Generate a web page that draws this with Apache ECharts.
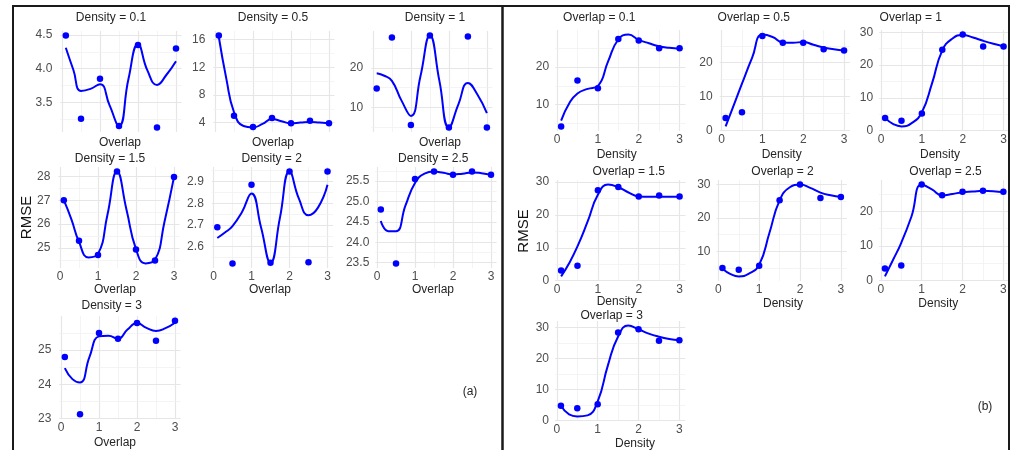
<!DOCTYPE html>
<html><head><meta charset="utf-8">
<script src="https://cdn.jsdelivr.net/npm/echarts@6/dist/echarts.min.js"></script>
<style>html,body{margin:0;padding:0;background:#fff}#chart{width:1017px;height:450px}</style>
</head><body><div id="chart"></div>
<script>
// ---------- x values ----------
const overlapLevels = [0.1, 0.5, 1, 1.5, 2, 2.5, 3];
const densityLevels = [0.1, 0.5, 1, 1.5, 2, 2.5, 3];
const fitX = [0.1, 0.3, 0.5, 0.75, 1, 1.25, 1.5, 1.75, 2, 2.25, 2.5, 2.75, 3];
const xTickLabels = ['0', '1', '2', '3'];

// ---------- (a) RMSE vs Overlap, one panel per Density ----------
const rmseDensity01 = [4.49, 3.26, 3.85, 3.15, 4.35, 3.13, 4.30];
const fitDensity01  = [4.31, 3.98, 3.67, 3.70, 3.77, 3.46, 3.15, 3.85, 4.36, 3.97, 3.76, 3.91, 4.11];
const rmseDensity05 = [16.6, 5.0, 3.36, 4.65, 3.9, 4.25, 3.9];
const fitDensity05  = [16.4, 10.3, 5.5, 3.5, 3.3, 3.8, 4.5, 4.2, 3.9, 4.0, 4.1, 4.0, 3.9];
const rmseDensity1  = [14.8, 27.65, 5.6, 28.1, 5.0, 27.9, 5.0];
const fitDensity1   = [18.6, 18.0, 16.7, 11.8, 7.9, 17.8, 28.1, 16.7, 5.0, 10.8, 16.2, 13.3, 8.6];
const rmseDensity15 = [27.0, 25.3, 24.7, 28.2, 24.93, 24.47, 27.97];
const fitDensity15  = [27.0, 26.2, 25.25, 24.6, 24.75, 26.4, 28.2, 26.6, 24.95, 24.35, 24.5, 26.1, 27.97];
const rmseDensity2  = [2.69, 2.523, 2.885, 2.526, 2.946, 2.528, 2.946];
const fitDensity2   = [2.64, 2.665, 2.695, 2.76, 2.845, 2.69, 2.526, 2.735, 2.946, 2.82, 2.745, 2.78, 2.885];
const rmseDensity25 = [24.8, 23.48, 25.55, 25.73, 25.65, 25.73, 25.65];
const fitDensity25  = [24.52, 24.27, 24.27, 24.9, 25.45, 25.68, 25.73, 25.7, 25.66, 25.68, 25.71, 25.69, 25.65];
const rmseDensity3  = [24.8, 23.12, 25.5, 25.33, 25.79, 25.27, 25.86];
const fitDensity3   = [24.47, 24.15, 24.05, 24.8, 25.4, 25.42, 25.33, 25.6, 25.79, 25.65, 25.56, 25.64, 25.8];

// ---------- (b) RMSE vs Density, one panel per Overlap ----------
const rmseOverlap01 = [4.25, 16.45, 14.4, 27.4, 27.05, 25.0, 25.0];
const fitOverlap01  = [5.8, 10.4, 13.0, 14.2, 15.0, 21.5, 27.3, 28.6, 27.2, 26.3, 25.5, 25.1, 24.85];
const rmseOverlap05 = [3.66, 5.4, 27.9, 25.9, 25.9, 24.0, 23.6];
const fitOverlap05  = [1.2, 7.5, 13.8, 21.5, 28.3, 27.6, 26.0, 25.9, 26.1, 25.3, 24.5, 24.0, 23.6];
const rmseOverlap1  = [3.87, 3.05, 5.2, 24.7, 29.3, 25.7, 25.7];
const fitOverlap1   = [3.9, 2.0, 1.3, 2.3, 5.6, 14.5, 24.5, 28.1, 29.2, 28.4, 27.4, 26.5, 25.7];
const rmseOverlap15 = [3.13, 4.56, 27.45, 28.5, 25.6, 25.9, 25.6];
const fitOverlap15  = [1.3, 5.4, 10.4, 18.0, 26.1, 29.2, 28.4, 26.8, 25.6, 25.5, 25.5, 25.5, 25.5];
const rmseOverlap2  = [5.0, 4.5, 5.7, 25.3, 30.0, 26.0, 26.3];
const fitOverlap2   = [4.8, 3.2, 2.5, 3.3, 6.0, 15.5, 25.3, 29.2, 30.0, 29.0, 27.6, 26.8, 26.3];
const rmseOverlap25 = [3.46, 4.32, 27.7, 24.6, 25.6, 25.9, 25.6];
const fitOverlap25  = [1.2, 6.0, 10.9, 18.5, 27.7, 26.3, 24.6, 25.0, 25.5, 25.7, 25.9, 25.8, 25.5];
const rmseOverlap3  = [4.76, 4.03, 5.3, 28.4, 29.4, 25.7, 25.9];
const fitOverlap3   = [4.76, 2.0, 1.35, 1.7, 6.2, 17.8, 27.1, 30.6, 29.4, 28.0, 27.0, 26.3, 25.9];

// ---------- y tick labels ----------
const yTicksDensity01 = ['3.5', '4.0', '4.5'];
const yTicksDensity05 = ['4', '8', '12', '16'];
const yTicksDensity1  = ['10', '20'];
const yTicksDensity15 = ['25', '26', '27', '28'];
const yTicksDensity2  = ['2.6', '2.7', '2.8', '2.9'];
const yTicksDensity25 = ['23.5', '24.0', '24.5', '25.0', '25.5'];
const yTicksDensity3  = ['23', '24', '25'];
const yTicksOverlap01 = ['10', '20'];
const yTicksOverlap05 = ['0', '10', '20'];
const yTicksOverlap1  = ['0', '10', '20', '30'];
const yTicksOverlap15 = ['0', '10', '20', '30'];
const yTicksOverlap2  = ['10', '20', '30'];
const yTicksOverlap25 = ['0', '10', '20'];
const yTicksOverlap3  = ['0', '10', '20', '30'];

// ---------- layout ----------
const WA = 121.2, WB = 130.3;
const panels = [
  {title:'Density = 0.1', x:overlapLevels, pts:rmseDensity01, fit:fitDensity01, yt:yTicksDensity01, name:'Overlap', left:60.3, top:31, w:WA, h:101, xl:false, tx:111, ty:18, nx:120, ny:143, m:8},
  {title:'Density = 0.5', x:overlapLevels, pts:rmseDensity05, fit:fitDensity05, yt:yTicksDensity05, name:'Overlap', left:213.3, top:31, w:WA, h:101, xl:false, tx:273, ty:18, nx:273, ny:143, m:8},
  {title:'Density = 1',   x:overlapLevels, pts:rmseDensity1,  fit:fitDensity1,  yt:yTicksDensity1,  name:'Overlap', left:371.2, top:31, w:WA, h:101, xl:false, tx:435, ty:18, nx:440, ny:143, m:8},
  {title:'Density = 1.5', x:overlapLevels, pts:rmseDensity15, fit:fitDensity15, yt:yTicksDensity15, name:'Overlap', left:58.3, top:167, w:WA, h:101, xl:true, tx:110, ty:158.3, nx:115, ny:290, m:8},
  {title:'Density = 2',   x:overlapLevels, pts:rmseDensity2,  fit:fitDensity2,  yt:yTicksDensity2,  name:'Overlap', left:211.8, top:167, w:WA, h:101, xl:true, tx:271.7, ty:158.3, nx:270, ny:290, m:8},
  {title:'Density = 2.5', x:overlapLevels, pts:rmseDensity25, fit:fitDensity25, yt:yTicksDensity25, name:'Overlap', left:375.3, top:167, w:WA, h:101, xl:true, tx:433.3, ty:158.3, nx:433, ny:290, m:6},
  {title:'Density = 3',   x:overlapLevels, pts:rmseDensity3,  fit:fitDensity3,  yt:yTicksDensity3,  name:'Overlap', left:59.3, top:316, w:WA, h:103, xl:true, tx:111.7, ty:306, nx:115, ny:442.7, m:8},
  {title:'Overlap = 0.1', x:densityLevels, pts:rmseOverlap01, fit:fitOverlap01, yt:yTicksOverlap01, name:'Density', left:555.2, top:30, w:WB, h:101, xl:true, tx:599.3, ty:17.3, nx:616.7, ny:154.5, m:6},
  {title:'Overlap = 0.5', x:densityLevels, pts:rmseOverlap05, fit:fitOverlap05, yt:yTicksOverlap05, name:'Density', left:719.7, top:30, w:WB, h:101, xl:true, tx:753.8, ty:17.3, nx:781.7, ny:155, m:7},
  {title:'Overlap = 1',   x:densityLevels, pts:rmseOverlap1,  fit:fitOverlap1,  yt:yTicksOverlap1,  name:'Density', left:879.2, top:30, w:WB, h:101, xl:true, tx:910.8, ty:17.3, nx:940, ny:155, m:6},
  {title:'Overlap = 1.5', x:densityLevels, pts:rmseOverlap15, fit:fitOverlap15, yt:yTicksOverlap15, name:'Density', left:555.2, top:180, w:WB, h:101, xl:true, tx:628.8, ty:171.7, nx:616.7, ny:301.5, m:6},
  {title:'Overlap = 2',   x:densityLevels, pts:rmseOverlap2,  fit:fitOverlap2,  yt:yTicksOverlap2,  name:'Density', left:716.5, top:180, w:WB, h:101, xl:true, tx:782.5, ty:171.7, nx:783, ny:304, m:6},
  {title:'Overlap = 2.5', x:densityLevels, pts:rmseOverlap25, fit:fitOverlap25, yt:yTicksOverlap25, name:'Density', left:879, top:180, w:WB, h:101, xl:true, tx:945.5, ty:171.7, nx:938.3, ny:303.3, m:6},
  {title:'Overlap = 3',   x:densityLevels, pts:rmseOverlap3,  fit:fitOverlap3,  yt:yTicksOverlap3,  name:'Density', left:555, top:321, w:WB, h:100, xl:true, tx:611.7, ty:316, nx:635, ny:443.3, m:6}
];

const FONT = '"Liberation Sans", Arial, sans-serif';
const TICK_COLOR = '#4d4d4d';
const TEXT_COLOR = '#262626';
const MAJOR = {color:'#e6e6e6', width:1.2, type:'solid'};
const MINOR = {color:'#efefef', width:0.7, type:'solid'};

function expand(vals) {
  const lo = Math.min(...vals), hi = Math.max(...vals);
  const d = (hi - lo) * 0.05;
  return [lo - d, hi + d];
}
function labelFormatter(values, labels) {
  return function (v) {
    for (let k = 0; k < values.length; k++) if (Math.abs(values[k] - v) < 1e-9) return labels[k];
    return '';
  };
}

const grids = [], xAxes = [], yAxes = [], series = [], graphics = [];
const xTickVals = xTickLabels.map(Number);

panels.forEach((p, i) => {
  const xr = expand(p.x);
  const yr = expand(p.pts.concat(p.fit));
  const yVals = p.yt.map(Number);
  const step = yVals.length > 1 ? yVals[1] - yVals[0] : 1;

  grids.push({left:p.left, top:p.top, width:p.w, height:p.h, containLabel:false, outerBoundsMode:'none'});
  xAxes.push({
    type:'value', gridIndex:i, min:xr[0], max:xr[1], interval:1,
    axisLine:{show:false}, axisTick:{show:false}, splitLine:{show:false},
    axisLabel:{show:p.xl, customValues:xTickVals, formatter:labelFormatter(xTickVals, xTickLabels),
      margin:3, color:TICK_COLOR, fontSize:12, fontFamily:FONT, showMinLabel:true, showMaxLabel:true}
  });
  yAxes.push({
    type:'value', gridIndex:i, min:yr[0], max:yr[1], interval:step,
    axisLine:{show:false}, axisTick:{show:false}, splitLine:{show:false},
    axisLabel:{customValues:yVals, formatter:labelFormatter(yVals, p.yt),
      margin:p.m, color:TICK_COLOR, fontSize:12, fontFamily:FONT, showMinLabel:true, showMaxLabel:true}
  });

  // grid lines (major at ticks, minor halfway)
  const lines = [];
  [0, 1, 2, 3].forEach(v => lines.push({xAxis:v, lineStyle:MAJOR}));
  [0.5, 1.5, 2.5].forEach(v => lines.push({xAxis:v, lineStyle:MINOR}));
  yVals.forEach(v => lines.push({yAxis:v, lineStyle:MAJOR}));
  const minors = [yVals[0] - step / 2];
  yVals.forEach(v => minors.push(v + step / 2));
  minors.forEach(v => { if (v > yr[0] && v < yr[1]) lines.push({yAxis:v, lineStyle:MINOR}); });

  series.push({
    type:'scatter', xAxisIndex:i, yAxisIndex:i, symbolSize:6.5,
    itemStyle:{color:'#0000ff', opacity:1}, silent:true, z:3,
    data:p.x.map((x, k) => [x, p.pts[k]]),
    markLine:{silent:true, symbol:['none','none'], animation:false, z:1, label:{show:false},
      emphasis:{disabled:true}, data:lines}
  });
  series.push({
    type:'line', xAxisIndex:i, yAxisIndex:i, smooth:0.5, showSymbol:false, silent:true, z:4,
    lineStyle:{color:'#0000ff', width:2}, itemStyle:{color:'#0000ff'},
    data:fitX.map((x, k) => [x, p.fit[k]])
  });

  graphics.push({type:'text', x:p.tx, y:p.ty, style:{text:p.title, align:'center', verticalAlign:'middle',
    textAlign:'center', textVerticalAlign:'middle', font:'12px ' + FONT, fill:TEXT_COLOR}});
  graphics.push({type:'text', x:p.nx, y:p.ny, style:{text:p.name, align:'center', verticalAlign:'middle',
    textAlign:'center', textVerticalAlign:'middle', font:'12px ' + FONT, fill:TEXT_COLOR}});
});

graphics.push({type:'text', x:26.7, y:217.5, rotation:Math.PI / 2, style:{text:'RMSE', align:'center', verticalAlign:'middle',
  textAlign:'center', textVerticalAlign:'middle', font:'15px ' + FONT, fill:'#111'}});
graphics.push({type:'text', x:524, y:231, rotation:Math.PI / 2, style:{text:'RMSE', align:'center', verticalAlign:'middle',
  textAlign:'center', textVerticalAlign:'middle', font:'15px ' + FONT, fill:'#111'}});
graphics.push({type:'text', x:470, y:391.7, style:{text:'(a)', align:'center', verticalAlign:'middle',
  textAlign:'center', textVerticalAlign:'middle', font:'12px ' + FONT, fill:TEXT_COLOR}});
graphics.push({type:'text', x:985, y:406.7, style:{text:'(b)', align:'center', verticalAlign:'middle',
  textAlign:'center', textVerticalAlign:'middle', font:'12px ' + FONT, fill:TEXT_COLOR}});
// frame
graphics.push({type:'rect', shape:{x:13, y:6, width:996, height:450}, style:{fill:'none', stroke:'#1a1a1a', lineWidth:2}, z:10});
graphics.push({type:'line', shape:{x1:502.5, y1:6, x2:502.5, y2:452}, style:{stroke:'#1a1a1a', lineWidth:2.5}, z:10});

const chart = echarts.init(document.getElementById('chart'), null, {renderer:'canvas'});
chart.setOption({
  animation:false,
  backgroundColor:'#ffffff',
  grid:grids, xAxis:xAxes, yAxis:yAxes, series:series,
  graphic:{elements:graphics}
});
</script>
</body></html>
